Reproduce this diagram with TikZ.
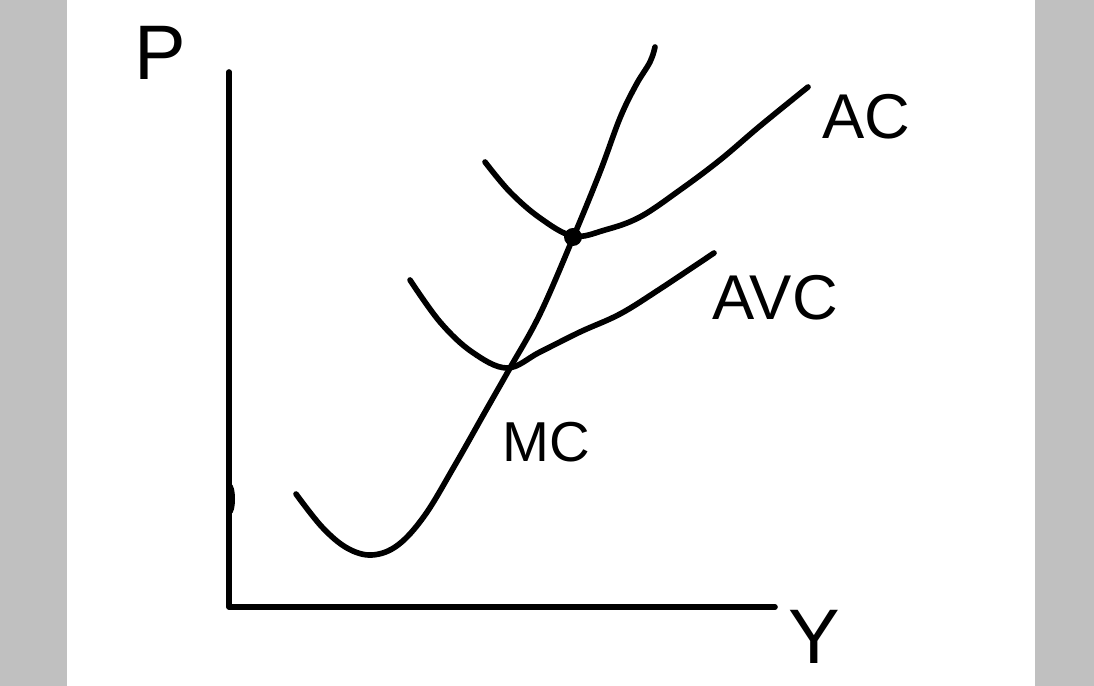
\documentclass[tikz,border=0pt]{standalone}
\usepackage{fontspec}
\setmainfont{Liberation Sans}
\usepackage{tikz}
\usetikzlibrary{calc,positioning}
\definecolor{bandgray}{RGB}{192,192,192}
\tikzset{%
	axis/.style     = {line width=1.6pt, line cap=round, line join=round},
	curve/.style    = {line width=1.6pt, line cap=round, smooth, tension=0.6},
	lbl/.style      = {inner sep=0pt, font=\fontsize{18}{18}\selectfont},
	waypoint/.style = {coordinate}, % corner points
}

\begin{document}
\begin{tikzpicture}[x=0.01cm,y=-0.01cm]
	\useasboundingbox (0,0) rectangle (1094,686);
	\fill[bandgray] (0,0) rectangle (67,686);
	\fill[bandgray] (1035,0) rectangle (1094,686);
	
	\node [waypoint] (ptop) at (229,72) {};
	\node [waypoint] (o) at (229,607) {};
	\node [waypoint] (yend) at (775,607) {};
	\draw[axis] (ptop) -- (o) -- (yend);
	\fill (231,499) ellipse (4 and 15);
	
	\node [lbl,font=\fontsize{22}{22}\selectfont] (p) at (160,53) {P};
	\node [lbl,font=\fontsize{22}{22}\selectfont] (y) at (814,637) {Y};
	
	% marginal cost
	\draw[curve] plot coordinates {(296,494) (322,527) (347,548) (372,555) (398,545) (425,515) (455,465) (485,412) (510,368) (540,314) (573,238) (600,172) (620,118) (636,85) (650,62) (655,47)};
	% average cost
	\draw[curve] plot coordinates {(485,162) (510,192) (540,218) (573,236) (605,230) (640,217) (680,190) (720,160) (760,126) (808,87)};
	% average variable cost
	\draw[curve] plot coordinates {(410,280) (440,322) (472,352) (507,368) (540,352) (580,332) (620,314) (660,289) (714,253)};
	\node [circle,fill,inner sep=0pt,minimum size=0.18cm] (m) at (573,237) {};
	
	\node [lbl] (ac) at (866,117) {AC};
	\node [lbl] (avc) at (775,298) {AVC};
	\node [lbl,font=\fontsize{16}{16}\selectfont] (mc) at (546,442) {MC};
\end{tikzpicture}
\end{document}
